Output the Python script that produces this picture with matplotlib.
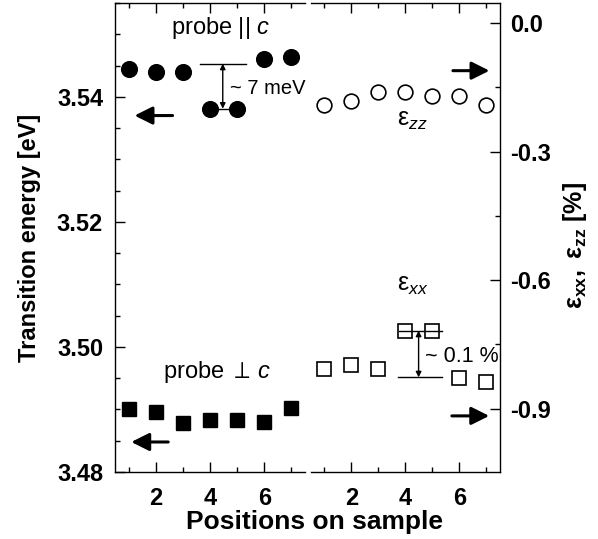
import numpy as np
import matplotlib
matplotlib.use("Agg")
import matplotlib.pyplot as plt
from matplotlib.ticker import MultipleLocator, FuncFormatter

plt.rcParams['font.family'] = ['Liberation Sans', 'DejaVu Sans']
plt.rcParams['mathtext.fontset'] = 'custom'
plt.rcParams['mathtext.rm'] = 'Liberation Sans'
plt.rcParams['mathtext.it'] = 'Liberation Sans:italic'
plt.rcParams['mathtext.bf'] = 'Liberation Sans:bold'
plt.rcParams['mathtext.fallback'] = 'stixsans'
plt.rcParams['axes.unicode_minus'] = False

# Dados
posicoes = [1, 2, 3, 4, 5, 6, 7]
energia_par = [3.5444, 3.5440, 3.5440, 3.5381, 3.5381, 3.5460, 3.5463]   # probe || c
energia_perp = [3.4901, 3.4896, 3.4879, 3.4883, 3.4883, 3.4880, 3.4902]  # probe perp c
eps_zz = [-0.191, -0.181, -0.160, -0.160, -0.171, -0.171, -0.191]
eps_xx = [-0.808, -0.798, -0.808, -0.718, -0.718, -0.828, -0.837]

W, H = 598, 539
fig = plt.figure(figsize=(W / 100, H / 100), dpi=100)
ax1 = fig.add_axes([115 / W, 1 - 472 / H, 190 / W, 469 / H])
ax2 = fig.add_axes([310.7 / W, 1 - 472 / H, 189.3 / W, 469 / H])

# Painel esquerdo: energias de transicao
ax1.plot(posicoes, energia_par, 'o', color='k', markersize=11.3, linestyle='none')
ax1.plot(posicoes, energia_perp, 's', color='k', markersize=10.3, linestyle='none')
ax1.set_xlim(0.5, 7.5)
ax1.set_ylim(3.48, 3.555)
ax1.spines['right'].set_visible(False)
ax1.yaxis.set_major_locator(MultipleLocator(0.02))
ax1.yaxis.set_minor_locator(MultipleLocator(0.005))
ax1.yaxis.set_major_formatter(FuncFormatter(lambda v, p: '%.2f' % v))
ax1.tick_params(axis='y', which='both', direction='in', left=True, right=False)
ax1.tick_params(axis='y', which='major', pad=8.6)

# Painel direito: deformacoes
ax2.plot(posicoes, eps_zz, 'o', markerfacecolor='white', markeredgecolor='k',
         markeredgewidth=1.2, markersize=10.6, linestyle='none')
ax2.plot(posicoes, eps_xx, 's', markerfacecolor='white', markeredgecolor='k',
         markeredgewidth=1.2, markersize=9.6, linestyle='none')
ax2.set_xlim(0.5, 7.5)
ax2.set_ylim(-1.048, 0.047)
ax2.spines['left'].set_visible(False)
ax2.yaxis.tick_right()
ax2.yaxis.set_major_locator(MultipleLocator(0.3))
ax2.yaxis.set_minor_locator(MultipleLocator(0.15))
ax2.yaxis.set_major_formatter(FuncFormatter(lambda v, p: '%.1f' % (round(v, 2) + 0.0)))
ax2.tick_params(axis='y', which='both', direction='in', left=False, right=True)
ax2.tick_params(axis='y', which='major', pad=7)

for ax in (ax1, ax2):
    ax.xaxis.set_major_locator(MultipleLocator(2))
    ax.xaxis.set_minor_locator(MultipleLocator(1))
    ax.tick_params(axis='x', which='both', direction='in', top=True, bottom=True)
    ax.tick_params(axis='x', which='major', pad=10.5)
    ax.tick_params(which='major', length=7, width=1)
    ax.tick_params(which='minor', length=3.6, width=1)
    ax.tick_params(labelsize=17)
    for s in ax.spines.values():
        s.set_linewidth(1.0)
    for lab in ax.get_xticklabels() + ax.get_yticklabels():
        lab.set_fontweight('bold')
    ax.patch.set_alpha(0)

# Setas indicando o eixo de cada serie
seta = dict(arrowstyle='-|>', mutation_scale=27, lw=2.2, color='k', shrinkA=0, shrinkB=0)
ax1.annotate('', xy=(1.22, 3.537), xytext=(2.62, 3.537), arrowprops=seta)
ax1.annotate('', xy=(1.10, 3.4848), xytext=(2.46, 3.4848), arrowprops=seta)
ax2.annotate('', xy=(7.11, -0.111), xytext=(5.76, -0.111), arrowprops=seta)
ax2.annotate('', xy=(7.10, -0.917), xytext=(5.72, -0.917), arrowprops=seta)

# Marcacao da diferenca de ~7 meV
seta_dupla = dict(arrowstyle='<|-|>', mutation_scale=8, lw=1, color='k', shrinkA=0, shrinkB=0)
ax1.plot([3.64, 5.31], [3.5453, 3.5453], color='k', lw=1)
ax1.plot([4, 5], [energia_par[3], energia_par[4]], color='k', lw=1)
ax1.annotate('', xy=(4.47, 3.5453), xytext=(4.47, energia_par[3]), arrowprops=seta_dupla)
ax1.text(4.75, 3.5414, '~ 7 meV', fontsize=14.5, ha='left', va='center')

# Marcacao da diferenca de ~0.1 %
ax2.plot([3.76, 5.35], [-0.718, -0.718], color='k', lw=1)
ax2.plot([3.72, 5.35], [-0.827, -0.827], color='k', lw=1)
ax2.annotate('', xy=(4.49, -0.718), xytext=(4.49, -0.827), arrowprops=seta_dupla)
ax2.text(4.74, -0.779, '~ 0.1 %', fontsize=15.5, ha='left', va='center')

# Textos
ax1.text(4.38, 3.551, r'probe || $\mathit{c}$', fontsize=17, ha='center', va='center')
ax1.text(4.25, 3.4960, r'probe ${\perp}\,\mathit{c}$', fontsize=17, ha='center', va='center')
ax2.text(4.25, -0.226, r'$\mathrm{ε}_{zz}$', fontsize=18, ha='center', va='center')
ax2.text(4.29, -0.612, r'$\mathrm{ε}_{xx}$', fontsize=18, ha='center', va='center')

# Rotulos dos eixos
fig.text(30 / W, 1 - 238 / H, 'Transition energy [eV]', fontsize=17, fontweight='bold',
         rotation=90, ha='center', va='center')
fig.text(575 / W, 1 - 245 / H, r'$\mathbf{ε}_{\mathbf{xx}}\mathbf{,\ ε}_{\mathbf{zz}}\mathbf{\ [\%]}$',
         fontsize=18, rotation=90, ha='center', va='center')
fig.text(314.5 / W, 1 - 522 / H, 'Positions on sample', fontsize=19, fontweight='bold',
         ha='center', va='center')

fig.savefig('out.png', dpi=100)
